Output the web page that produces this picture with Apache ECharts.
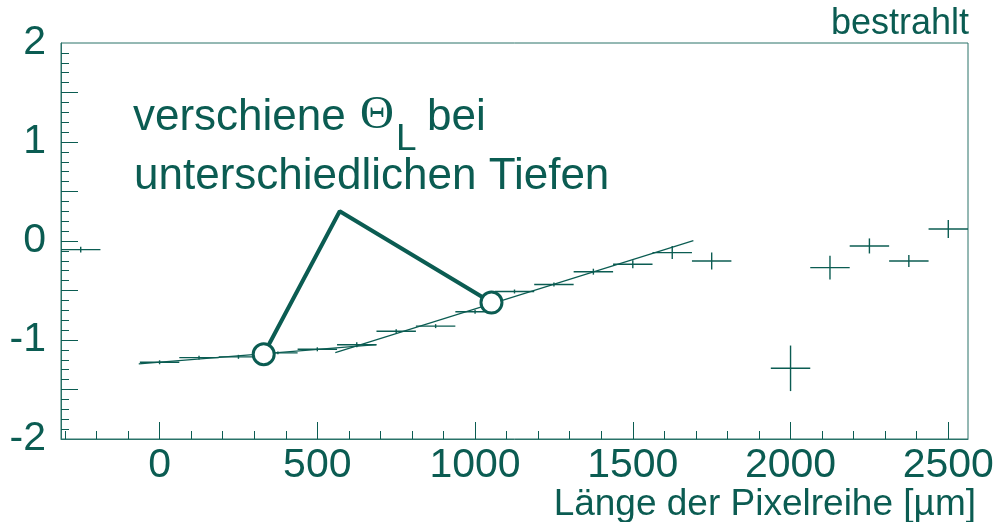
<!DOCTYPE html>
<html>
<head>
<meta charset="utf-8">
<script src="https://cdn.jsdelivr.net/npm/echarts@6/dist/echarts.min.js"></script>
<style>
html,body{margin:0;padding:0;background:#fff;}
#chart{width:997px;height:522px;}
</style>
</head>
<body>
<div id="chart"></div>
<script>
// ---- data ----
const binCenters = [-250, 0, 125, 250, 375, 500, 625, 750, 875, 1000, 1125, 1250, 1375, 1500, 1625, 1750, 2000, 2125, 2250, 2375, 2500];
const values     = [-0.087, -1.225, -1.178, -1.170, -1.130, -1.094, -1.048, -0.912, -0.860, -0.715, -0.510, -0.440, -0.310, -0.235, -0.117, -0.202, -1.286, -0.269, -0.050, -0.202, 0.121];
const yErrors    = [0.03, 0.02, 0.02, 0.02, 0.015, 0.02, 0.025, 0.02, 0.02, 0.02, 0.02, 0.02, 0.03, 0.04, 0.066, 0.086, 0.23, 0.12, 0.076, 0.06, 0.09];
const xHalfWidth = 62.5;

const fit1X = [-66, 687];
const fit1Y = [-1.242, -1.046];
const fit2X = [557, 1692];
const fit2Y = [-1.127, 0.004];

const calloutX = [330, 571, 1052];
const calloutY = [-1.144, 0.30, -0.622];

const xMajorTicks = [0, 500, 1000, 1500, 2000, 2500];
const xMinorTicks = [-300, -200, -100, 100, 200, 300, 400, 600, 700, 800, 900, 1100, 1200, 1300, 1400, 1600, 1700, 1800, 1900, 2100, 2200, 2300, 2400];
const yLabels = [-2, -1, 0, 1, 2];
const yMajorTicks = [-1.5, -1, -0.5, 0, 0.5, 1, 1.5];
const yMinorTicks = [-1.9,-1.8,-1.7,-1.6,-1.4,-1.3,-1.2,-1.1,-0.9,-0.8,-0.7,-0.6,-0.4,-0.3,-0.2,-0.1,0.1,0.2,0.3,0.4,0.6,0.7,0.8,0.9,1.1,1.2,1.3,1.4,1.6,1.7,1.8,1.9];

const xTitle = 'Länge der Pixelreihe [µm]';
const cornerLabel = 'bestrahlt';
const noteLine1a = 'verschiene';
const noteTheta = 'Θ';
const noteSub = 'L';
const noteLine1b = 'bei';
const noteLine2 = 'unterschiedlichen Tiefen';

// ---- chart ----
const teal = '#0b5c52';
const axisCol = '#2a7369';
const font = 'Liberation Sans, Arial, sans-serif';

const chart = echarts.init(document.getElementById('chart'), null, {renderer: 'canvas'});

const errData = binCenters.map((x, i) => [x, values[i], xHalfWidth, yErrors[i]]);

const option = {
  animation: false,
  backgroundColor: '#ffffff',
  grid: {left: 61, right: 29, top: 43, bottom: 83, show: true, borderColor: axisCol, borderWidth: 1,
         backgroundColor: 'transparent', containLabel: false, outerBoundsMode: 'none'},
  xAxis: [
    {type: 'value', min: -312.5, max: 2562.5, position: 'bottom',
     axisLine: {show: true, onZero: false, lineStyle: {color: axisCol, width: 1}},
     axisTick: {show: true, inside: true, length: 17, customValues: xMajorTicks, lineStyle: {color: teal, width: 1}},
     axisLabel: {show: true, customValues: xMajorTicks, color: teal, fontFamily: font, fontSize: 41, margin: 6,
                 formatter: function (v) { return String(v); }},
     splitLine: {show: false}},
    {type: 'value', min: -312.5, max: 2562.5, position: 'bottom', gridIndex: 0,
     axisLine: {show: false, onZero: false},
     axisTick: {show: true, inside: true, length: 8, customValues: xMinorTicks, lineStyle: {color: teal, width: 1}},
     axisLabel: {show: false},
     splitLine: {show: false}}
  ],
  yAxis: [
    {type: 'value', min: -2, max: 2, position: 'left',
     axisLine: {show: true, onZero: false, lineStyle: {color: axisCol, width: 1}},
     axisTick: {show: true, inside: true, length: 17, customValues: yMajorTicks, lineStyle: {color: teal, width: 1}},
     axisLabel: {show: true, customValues: yLabels, color: teal, fontFamily: font, fontSize: 41, margin: 15,
                 padding: [5, 0, 0, 0], formatter: function (v) { return String(v); }},
     splitLine: {show: false}},
    {type: 'value', min: -2, max: 2, position: 'left', gridIndex: 0,
     axisLine: {show: false, onZero: false},
     axisTick: {show: true, inside: true, length: 8, customValues: yMinorTicks, lineStyle: {color: teal, width: 1}},
     axisLabel: {show: false},
     splitLine: {show: false}}
  ],
  series: [
    {
      type: 'custom', xAxisIndex: 0, yAxisIndex: 0,
      data: errData,
      encode: {x: 0, y: 1},
      renderItem: function (params, api) {
        const x = api.value(0), y = api.value(1), xe = api.value(2), ye = api.value(3);
        const a = api.coord([x - xe, y]);
        const b = api.coord([x + xe, y]);
        const c = api.coord([x, y - ye]);
        const d = api.coord([x, y + ye]);
        const st = {stroke: teal, lineWidth: 1.4};
        return {type: 'group', children: [
          {type: 'line', shape: {x1: a[0], y1: a[1], x2: b[0], y2: b[1]}, style: st},
          {type: 'line', shape: {x1: c[0], y1: c[1], x2: d[0], y2: d[1]}, style: st}
        ]};
      },
      z: 3
    },
    {type: 'line', xAxisIndex: 0, yAxisIndex: 0, data: fit1X.map((x, i) => [x, fit1Y[i]]),
     showSymbol: false, symbol: 'none', lineStyle: {color: teal, width: 1.2}, z: 4},
    {type: 'line', xAxisIndex: 0, yAxisIndex: 0, data: fit2X.map((x, i) => [x, fit2Y[i]]),
     showSymbol: false, symbol: 'none', lineStyle: {color: teal, width: 1.2}, z: 4},
    {type: 'line', xAxisIndex: 0, yAxisIndex: 0,
     data: calloutX.map((x, i) => ({value: [x, calloutY[i]], symbol: (i === 1 ? 'none' : 'circle')})),
     showSymbol: true, symbolSize: 21,
     itemStyle: {color: '#ffffff', borderColor: teal, borderWidth: 3},
     lineStyle: {color: teal, width: 4}, z: 6}
  ],
  graphic: [
    {type: 'text', style: {x: 969, y: 24, text: cornerLabel, fill: teal, font: '36px ' + font, textAlign: 'right', textVerticalAlign: 'middle'}, z: 10},
    {type: 'text', style: {x: 976, y: 505, text: xTitle, fill: teal, font: '37px ' + font, textAlign: 'right', textVerticalAlign: 'middle'}, z: 10},
    {type: 'text', style: {x: 133, y: 118, text: noteLine1a, fill: teal, font: '44px ' + font, textAlign: 'left', textVerticalAlign: 'middle'}, z: 10},
    {type: 'text', style: {x: 360, y: 116, text: noteTheta, fill: teal, font: '47px Liberation Serif, Times New Roman, serif', textAlign: 'left', textVerticalAlign: 'middle'}, z: 10},
    {type: 'text', style: {x: 396, y: 140, text: noteSub, fill: teal, font: '37px ' + font, textAlign: 'left', textVerticalAlign: 'middle'}, z: 10},
    {type: 'text', style: {x: 427, y: 118, text: noteLine1b, fill: teal, font: '44px ' + font, textAlign: 'left', textVerticalAlign: 'middle'}, z: 10},
    {type: 'text', style: {x: 134, y: 177, text: noteLine2, fill: teal, font: '44px ' + font, textAlign: 'left', textVerticalAlign: 'middle'}, z: 10}
  ]
};
chart.setOption(option);
</script>
</body>
</html>
